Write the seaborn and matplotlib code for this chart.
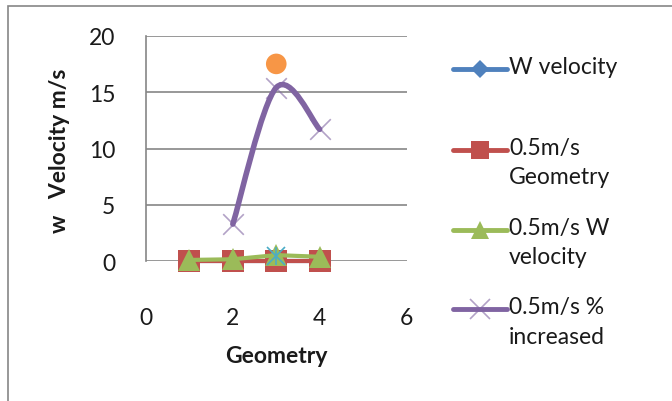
import numpy as np
import pandas as pd
import seaborn as sns
import matplotlib.pyplot as plt
from matplotlib.path import Path
from matplotlib.patches import PathPatch, Rectangle
from matplotlib.lines import Line2D

# ---- data ----
geometry = [1, 2, 3, 4]
w_velocity = [0.0, 0.0, 0.0, 0.0]
geom_05 = [0.0, 0.0, 0.0, 0.0]
w_velocity_05 = [0.12, 0.18, 0.55, 0.4]
pct_x = [2, 3, 4]
pct_increased_05 = [3.3, 15.4, 11.7]
extra_x = [3]
extra_star = [0.5]
extra_circle = [17.5]

legend_labels = ["W velocity", "0.5m/s\nGeometry", "0.5m/s W\nvelocity", "0.5m/s %\nincreased"]

C_BLUE = "#4F81BD"
C_RED = "#C0504D"
C_GREEN = "#9BBB59"
C_PURPLE = "#8064A2"
C_TEAL = "#4BACC6"
C_ORANGE = "#F79646"
TXT = "#1a1a1a"
FS = 16.5

sns.set_theme(style="white")
plt.rcParams["font.family"] = ["Lato", "DejaVu Sans"]

W, H = 672, 402
fig = plt.figure(figsize=(W / 100, H / 100), dpi=100)
ax = fig.add_axes([146 / W, 1 - 262.3 / H, (406.5 - 146) / W, (262.3 - 36.7) / H])

# straight series
sns.lineplot(x=geometry, y=w_velocity, ax=ax, color=C_BLUE, lw=3, marker="D",
             markersize=11, markeredgewidth=0, zorder=3)
sns.lineplot(x=geometry, y=geom_05, ax=ax, color=C_RED, lw=3, marker="s",
             markersize=15.5, markeredgewidth=0, zorder=4)
sns.lineplot(x=geometry, y=w_velocity_05, ax=ax, color=C_GREEN, lw=3, marker="^",
             markersize=16, markeredgewidth=0, zorder=5)

# smoothed series (Catmull-Rom style Bezier through the points)
pts = np.column_stack([pct_x, pct_increased_05]).astype(float)
ext = np.vstack([pts[0], pts, pts[-1]])
verts = [tuple(pts[0])]
codes = [Path.MOVETO]
for i in range(len(pts) - 1):
    p0, p1, p2, p3 = ext[i], ext[i + 1], ext[i + 2], ext[i + 3]
    c1 = p1 + (p2 - p0) / 6
    c2 = p2 - (p3 - p1) / 6
    verts += [tuple(c1), tuple(c2), tuple(p2)]
    codes += [Path.CURVE4] * 3
ax.add_patch(PathPatch(Path(verts, codes), fill=False, edgecolor=C_PURPLE, lw=4,
                       capstyle="round", zorder=6))
sns.scatterplot(x=pct_x, y=pct_increased_05, ax=ax, marker="x", s=220,
                color=C_PURPLE, alpha=0.6, linewidth=1.2, zorder=7)

ax.plot(extra_x, extra_star, marker="x", ms=13, mew=1.2, color=C_TEAL, ls="none", zorder=8)
ax.plot(extra_x, extra_star, marker="|", ms=13, mew=1.2, color=C_TEAL, ls="none", zorder=8)
sns.scatterplot(x=extra_x, y=extra_circle, ax=ax, marker="o", s=220, color=C_ORANGE,
                edgecolor="none", zorder=9)

for art in ax.lines + ax.collections:
    art.set_clip_on(False)

# axes
ax.set_xlim(0, 6)
ax.set_ylim(0, 20)
ax.set_xticks([0, 2, 4, 6])
ax.set_yticks([0, 5, 10, 15, 20])
ax.grid(axis="y", color="#868686", lw=1.2)
ax.set_axisbelow(True)
for s in ["top", "right", "bottom"]:
    ax.spines[s].set_visible(False)
ax.spines["left"].set_color("#868686")
ax.spines["left"].set_linewidth(1.2)
ax.tick_params(axis="y", length=0, pad=22, labelsize=FS, labelcolor=TXT)
ax.tick_params(axis="x", length=0, pad=33, labelsize=FS, labelcolor=TXT)
ax.set_xlabel("Geometry", fontsize=FS, fontweight="bold", color=TXT)
ax.set_ylabel("w   Velocity m/s", fontsize=FS, fontweight="bold", color=TXT)
ax.xaxis.set_label_coords((276 - 146) / (406.5 - 146), -(357 - 262.3) / (262.3 - 36.7))
ax.yaxis.set_label_coords(-(146 - 60) / (406.5 - 146), (262.3 - 151) / (262.3 - 36.7))
ax.xaxis.label.set_va("center")
ax.yaxis.label.set_va("center")

# legend
def fx(px):
    return px / W

def fy(py):
    return 1 - py / H

rows = [
    (70, C_BLUE, "D", 9, legend_labels[0]),
    (151, C_RED, "s", 13, legend_labels[1]),
    (231, C_GREEN, "^", 13, legend_labels[2]),
    (310, C_PURPLE, "x", 15, legend_labels[3]),
]
for y, c, m, ms, lab in rows:
    fig.add_artist(Line2D([fx(453), fx(507)], [fy(y), fy(y)], color=c, lw=3.5,
                          transform=fig.transFigure))
    if m == "x":
        fig.add_artist(Line2D([fx(480)], [fy(y)], marker=m, ms=ms, mew=1.2, color=c,
                              alpha=0.6, transform=fig.transFigure))
    else:
        fig.add_artist(Line2D([fx(480)], [fy(y)], marker=m, ms=ms, mew=0, color=c,
                              transform=fig.transFigure))
    fig.text(fx(509), fy(y - 13), lab, fontsize=FS, color=TXT, va="top",
             ha="left", linespacing=1.5, transform=fig.transFigure)

# chart frame
fig.add_artist(Rectangle((fx(8), fy(420)), fx(700) - fx(8), fy(7) - fy(420),
                         transform=fig.transFigure, fill=False, edgecolor="#868686",
                         lw=1.2, clip_on=False))

fig.savefig("out.png", dpi=100)
